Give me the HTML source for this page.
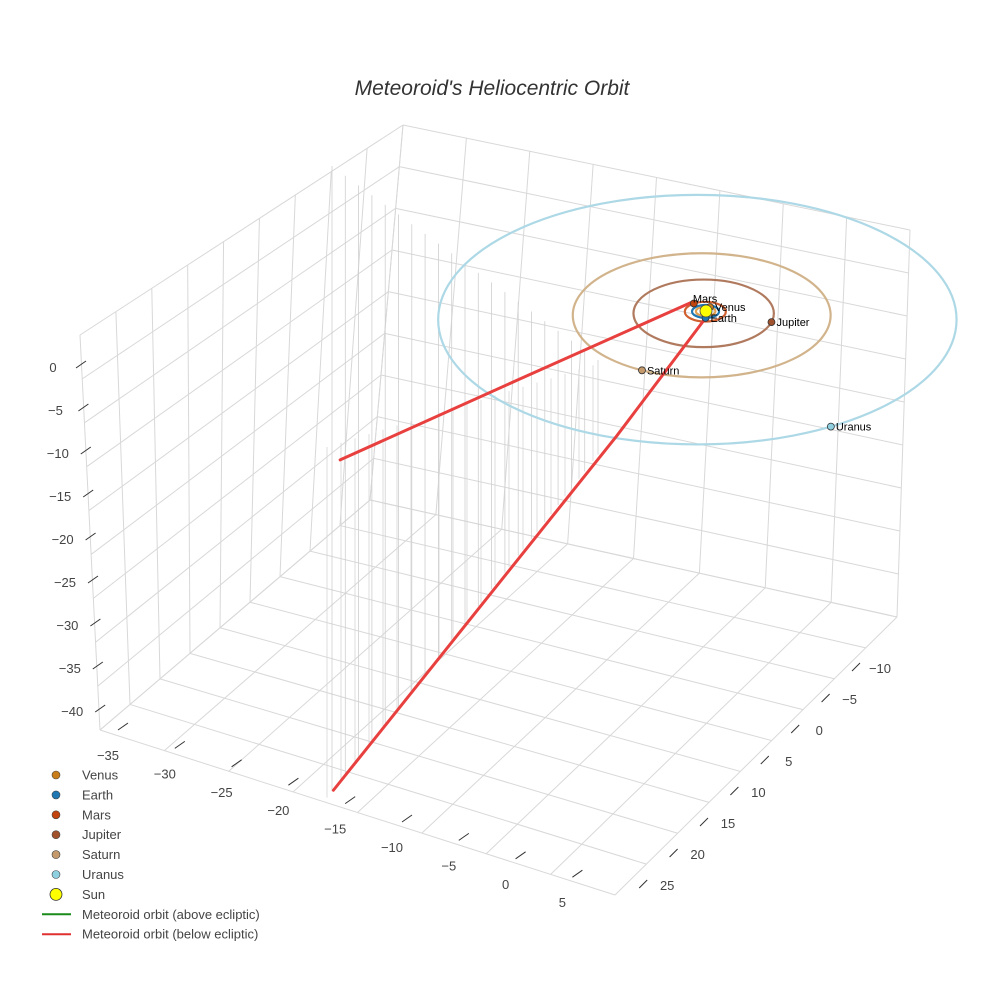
<!DOCTYPE html>
<html><head><meta charset="utf-8">
<style>
html,body{margin:0;padding:0;background:#fff;}
svg{display:block;font-family:"Liberation Sans",sans-serif;}
</style></head>
<body>
<svg id="chart" width="984" height="984" viewBox="0 0 984 984" xmlns="http://www.w3.org/2000/svg">
<text x="492" y="95" text-anchor="middle" font-size="21" font-style="italic" fill="#333">Meteoroid's Heliocentric Orbit</text>
<g id="grid"></g>
<g id="drops"></g>
<g id="axes"></g>
<g id="orbits"></g>
<g id="meteor"></g>
<g id="planets"></g>
<g id="legend"></g>
</svg>
<script>
const planetNames=["Venus","Earth","Mars","Jupiter","Saturn","Uranus"];
const orbitRadius=[0.72,1.0,1.52,5.2,9.55,19.2];
const planetAngle=[-64,90,236,15,117.6,59];
const planetColors=["#c87d1a","#1f77b4","#c1440e","#a0522d","#c49a6c","#8ecfe0"];
const orbitColors=["#e0a050","#1f77b4","#d06030","#b07a5f","#d2b48c","#add8e6"];
const met1U=[-1,-14,-27.1], met1V=[-1.4,7,15.6], met1Z=[0,-2.5,-5];
const met2U=[0,-6.6,-27.6], met2V=[1,14.8,44.5], met2Z=[0,-3,-20];
const xTicks=[-35,-30,-25,-20,-15,-10,-5,0,5];
const yTicks=[-10,-5,0,5,10,15,20,25];
const zTicks=[0,-5,-10,-15,-20,-25,-30,-35,-40];

const NS="http://www.w3.org/2000/svg";
const CX=706,CY=311,SU=13.5,SV=6.5,SZ=9.5;
function px(u,v,z){return CX+u*SU;}
function py(u,v,z){return CY+v*SV-z*SZ;}
function mk(tag,attrs,parent){const e=document.createElementNS(NS,tag);for(const k in attrs)e.setAttribute(k,attrs[k]);parent.appendChild(e);return e;}
function lerp(a,b,t){return [a[0]+(b[0]-a[0])*t,a[1]+(b[1]-a[1])*t];}
function quad(p00,p10,p01,p11,s,t){return lerp(lerp(p00,p10,s),lerp(p01,p11,s),t);}

const G=document.getElementById('grid');
const TL=[80,335],TB=[403,125],TR=[910,230],BL=[100,730],BB=[370,500],BR=[897,617],BF=[615,895];
function gridQuad(a,b,c,d,n1,n2){
  for(let i=0;i<=n1;i++){const s=i/n1;const p=quad(a,b,c,d,s,0),q=quad(a,b,c,d,s,1);
    const l=mk('line',{x1:p[0],y1:p[1],x2:q[0],y2:q[1],stroke:'#d8d8d8','stroke-width':1},G);
    }
  for(let j=0;j<=n2;j++){const t=j/n2;const p=quad(a,b,c,d,0,t),q=quad(a,b,c,d,1,t);
    const l=mk('line',{x1:p[0],y1:p[1],x2:q[0],y2:q[1],stroke:'#d8d8d8','stroke-width':1},G);
    }
}
gridQuad(TL,TB,BL,BB,9,9);
gridQuad(TB,TR,BB,BR,8,9);
gridQuad(BL,BB,BF,BR,9,8);

const D=document.getElementById('drops');
function branchY(x){return 318+(706-x)*472/373;}
for(let i=0;i<21;i++){const x=332+i*13.3,top=166+i*9.7;
  const l=mk('line',{x1:x,y1:top,x2:x,y2:branchY(x),stroke:'#cfcfcf','stroke-width':0.8},D);
  }
for(let i=0;i<20;i++){const x=327+i*14,top=447-i*4.3;
  const l=mk('line',{x1:x,y1:top,x2:x,y2:branchY(x),stroke:'#d6d6d6','stroke-width':0.8},D);
  }

const A=document.getElementById('axes');
xTicks.forEach((v)=>{const x=108+(v+35)/5*56.8,y=760+(v+35)/5*18.4;
  const t=mk('text',{x:x,y:y,'font-size':13,fill:'#444','text-anchor':'middle'},A);t.textContent=String(v).replace('-','\u2212');
  
  mk('line',{x1:x+10,y1:y-30,x2:x+20,y2:y-37,stroke:'#333','stroke-width':1},A);});
yTicks.forEach((v)=>{const x=880-(v+10)/5*30.4,y=673+(v+10)/5*31;
  const t=mk('text',{x:x,y:y,'font-size':13,fill:'#444','text-anchor':'middle'},A);t.textContent=String(v).replace('-','\u2212');
  
  mk('line',{x1:x-20,y1:y-10,x2:x-28,y2:y-2,stroke:'#333','stroke-width':1},A);});
zTicks.forEach((v)=>{const x=53-v/5*2.4,y=372-v/5*43;
  const t=mk('text',{x:x,y:y,'font-size':13,fill:'#444','text-anchor':'middle'},A);t.textContent=String(v).replace('-','\u2212');
  
  mk('line',{x1:x+23,y1:y-4,x2:x+33,y2:y-11,stroke:'#333','stroke-width':1},A);});

const O=document.getElementById('orbits');
orbitRadius.forEach((r,i)=>{const dx=-r*0.45,dy=r*0.45;
  const e=mk('ellipse',{cx:px(0,0,0)+dx,cy:py(0,0,0)+dy,rx:r*SU,ry:r*SV,fill:'none',stroke:orbitColors[i],'stroke-width':2.2},O);
  });

const M=document.getElementById('meteor');
function branch(U,V,Z,name){const pts=U.map((u,i)=>px(u,V[i],Z[i])+','+py(u,V[i],Z[i])).join(' ');
  const p=mk('polyline',{points:pts,fill:'none',stroke:'#e8403f','stroke-width':3,'stroke-linecap':'round'},M);
  }
branch(met1U,met1V,met1Z,'meteoroid-branch-1');
branch(met2U,met2V,met2Z,'meteoroid-branch-2');

const P=document.getElementById('planets');
planetNames.forEach((n,i)=>{const a=planetAngle[i]*Math.PI/180,r=orbitRadius[i],u=r*Math.cos(a),v=r*Math.sin(a);
  const x=px(u,v,0)-r*0.45,y=py(u,v,0)+r*0.45;
  const c=mk('circle',{cx:x,cy:y,r:3.5,fill:planetColors[i],stroke:'#333','stroke-width':0.8},P);
  
  const t=mk('text',{x:x+(n==='Mars'?-1:5),y:y+(n==='Mars'?-1:4),'font-size':11,fill:'#000'},P);t.textContent=n;
  });
const sun=mk('circle',{cx:px(0,0,0),cy:py(0,0,0),r:6,fill:'#ffff00',stroke:'#444','stroke-width':0.8},P);


const L=document.getElementById('legend');
const legNames=planetNames.concat(["Sun","Meteoroid orbit (above ecliptic)","Meteoroid orbit (below ecliptic)"]);
legNames.forEach((n,i)=>{const y=775+i*19.9;
  let m;
  if(i<6){m=mk('circle',{cx:56,cy:y,r:4,fill:planetColors[i],stroke:'#444','stroke-width':0.6},L);}
  else if(i===6){m=mk('circle',{cx:56,cy:y,r:6,fill:'#ffff00',stroke:'#333','stroke-width':0.8},L);}
  else{m=mk('line',{x1:42,y1:y,x2:71,y2:y,stroke:i===7?'#1a8a1a':'#e03030','stroke-width':2},L);}
  
  const t=mk('text',{x:82,y:y+4.5,'font-size':13,fill:'#444'},L);t.textContent=n;
  });
</script>
</body></html>
